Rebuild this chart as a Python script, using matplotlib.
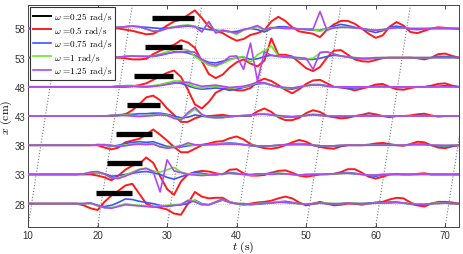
import numpy as np
import matplotlib
matplotlib.use("Agg")
import matplotlib.pyplot as plt

plt.rcParams["mathtext.fontset"] = "cm"
plt.rcParams["font.family"] = ["Liberation Sans", "DejaVu Sans"]

# time axis (s), one sample per second
t = np.array([10, 11, 12, 13, 14, 15, 16, 17, 18, 19,
              20, 21, 22, 23, 24, 25, 26, 27, 28, 29,
              30, 31, 32, 33, 34, 35, 36, 37, 38, 39,
              40, 41, 42, 43, 44, 45, 46, 47, 48, 49,
              50, 51, 52, 53, 54, 55, 56, 57, 58, 59,
              60, 61, 62, 63, 64, 65, 66, 67, 68, 69,
              70, 71, 72])

gauges = [28, 33, 38, 43, 48, 53, 58]

# displacement (cm) about each gauge position
red_28 = [0, 0, 0, 0, 0, 0, 0, 0, -0.3, -0.8,
          -1.1, 0.3, 1.4, 2.2, 3.1, 3.4, 1.7, 0.0, -0.5, -0.7,
          -1.0, -1.7, -1.9, 0.0, 2.0, 1.2, 0.9, 1.0, 1.0, 0.3,
          0.0, -0.2, 0.0, 0.2, 0.3, 0.5, 0.9, 1.2, 0.9, 0.2,
          -0.3, 0.0, 0.3, 0.0, -0.3, -0.2, 0.0, 0.0, -0.2, 0.0,
          0.2, 0.3, 0.7, 1.0, 0.9, 0.2, -0.3, -0.5, 0.0, 0.3,
          0.3, 0.2, 0.0]
blue_28 = [0, 0, 0, 0, 0, 0, 0, 0, 0, 0.1,
           -0.3, -0.5, -0.3, 0.2, 0.8, 0.7, 0.4, 0.2, 0.0, -0.3,
           -0.5, -0.3, -0.2, 0.0, 0.6, 0.0, -0.2, 0.2, 0.6, 0.2,
           0.0, -0.1, -0.2, -0.1, 0.0, 0.1, 0.3, 0.4, 0.2, 0.0,
           -0.2, -0.1, 0.1, 0.0, -0.1, 0.0, 0.1, 0.0, 0.0, 0.1,
           0.1, 0.2, 0.3, 0.3, 0.1, -0.1, -0.3, -0.2, 0.0, 0.1,
           0.1, 0.0, 0.0]
green_28 = [0, 0, 0, 0, 0, 0, 0, 0, 0, 0,
            -0.4, -0.7, -0.7, -0.4, 0.0, -0.2, -0.3, -0.4, -0.5, -0.4,
            -0.3, -0.2, -0.1, 0.6, 0.5, -0.1, -0.2, 0.3, 0.7, 0.3,
            0.0, 0.0, -0.1, 0.0, 0.1, 0.2, 0.3, 0.2, 0.1, 0.0,
            -0.1, 0.0, 0.1, 0.1, 0.0, 0.0, 0.1, 0.1, 0.0, 0.0,
            0.1, 0.1, 0.2, 0.2, 0.1, 0.0, -0.1, -0.1, 0.0, 0.1,
            0.1, 0.0, 0.0]
purple_28 = [0, 0, 0, 0, 0, 0, 0, 0, 0, 0.1,
             -0.3, -0.7, -0.8, -0.5, -0.2, -0.3, -0.4, -0.5, -0.6, -0.5,
             -0.4, -0.3, -0.2, 0.5, 0.3, -0.2, -0.2, 0.3, 0.8, 0.2,
             0.0, 0.0, -0.1, 0.0, 0.1, 0.1, 0.2, 0.2, 0.1, 0.0,
             -0.1, 0.0, 0.1, 0.0, 0.0, 0.0, 0.1, 0.0, 0.0, 0.0,
             0.1, 0.1, 0.1, 0.2, 0.1, 0.0, -0.1, -0.1, 0.0, 0.0,
             0.1, 0.0, 0.0]

red_33 = [0, 0, 0, 0, 0, 0, 0, 0, 0, 0,
          -0.2, -0.5, -1.0, -0.2, 0.8, 1.5, 1.8, 2.9, 2.0, -0.3,
          -2.5, -3.5, -1.2, 0.0, 0.4, 0.6, 0.5, 0.2, 0.0, 0.8,
          0.9, 0.2, -0.2, -0.2, -0.1, 0.3, 0.6, 0.7, 0.3, -0.2,
          -0.4, -0.2, 0.0, 0.0, 0.1, 0.4, 0.9, 0.9, 0.3, -0.4,
          -0.7, -0.4, 0.0, 0.1, 0.0, 0.0, 0.1, 0.2, 0.0, 0.0,
          0.0, 0.0, 0.0]
blue_33 = [0, 0, 0, 0, 0, 0, 0, 0, 0.1, 0.2,
           0.3, 0.1, -0.3, -0.2, 0.0, 0.2, 0.4, 0.5, 0.3, 0.0,
           -0.5, -0.8, -0.4, 0.0, 0.3, 0.2, 0.0, -0.1, 0.1, 0.3,
           0.2, 0.0, -0.1, 0.0, 0.1, 0.2, 0.2, 0.1, 0.0, -0.1,
           -0.1, 0.0, 0.1, 0.1, 0.1, 0.2, 0.3, 0.2, 0.0, -0.2,
           -0.3, -0.1, 0.0, 0.0, 0.0, 0.0, 0.0, 0.1, 0.0, 0.0,
           0.0, 0.0, 0.0]
green_33 = [0, 0, 0, 0, 0, 0, 0, 0, 0.1, 0.3,
            0.4, 0.0, -0.6, -0.6, -0.1, 0.4, 0.9, 1.1, 0.6, 0.4,
            0.8, 1.2, 0.4, 0.1, 0.1, 0.0, -0.1, 0.0, 0.1, 0.2,
            0.1, 0.0, -0.1, 0.0, 0.1, 0.1, 0.2, 0.1, 0.0, -0.1,
            0.0, 0.0, 0.1, 0.1, 0.1, 0.1, 0.2, 0.1, 0.0, -0.1,
            -0.1, 0.0, 0.0, 0.0, 0.0, 0.0, 0.0, 0.0, 0.0, 0.0,
            0.0, 0.0, 0.0]
purple_33 = [0, 0, 0, 0, 0, 0, 0, 0, 0.1, 0.4,
             0.5, 0.1, -0.6, -0.7, -0.3, 0.2, 0.8, 1.0, 0.5, -3.0,
             2.5, 0.6, 0.3, 0.0, -0.1, -0.2, -0.1, 0.0, 0.1, 0.2,
             0.1, 0.0, 0.0, 0.1, 0.1, 0.0, 0.1, 0.1, 0.0, -0.1,
             0.0, 0.0, 0.0, 0.1, 0.1, 0.2, 0.2, 0.1, 0.0, -0.1,
             -0.1, 0.0, 0.0, 0.0, 0.0, 0.0, 0.0, 0.0, 0.0, 0.0,
             0.0, 0.0, 0.0]

red_38 = [0, 0, 0, 0, 0, 0, 0, 0, 0, 0,
          0.0, -0.4, -0.7, -0.4, 0.5, 0.8, 1.1, 1.8, 2.7, 1.8,
          0.8, -0.3, -1.2, -1.2, -0.6, 0.0, 0.3, 0.6, 0.7, 1.2,
          1.5, 1.0, 0.2, -0.2, -0.5, -0.6, -0.4, 0.0, 0.5, 0.9,
          0.6, 0.0, -0.3, -0.5, -0.6, -0.2, 0.0, 0.0, 0.0, 0.1,
          0.3, 0.4, 0.2, 0.0, -0.1, 0.2, 0.6, 0.5, 0.0, -0.4,
          -0.5, -0.2, 0.0]
blue_38 = [0, 0, 0, 0, 0, 0, 0, 0, 0, 0,
           0.1, 0.0, -0.2, 0.0, 0.3, 0.5, 0.6, 0.5, 0.6, 0.2,
           -0.2, -0.3, -0.3, -0.1, 0.0, 0.1, 0.2, 0.2, 0.3, 0.4,
           0.3, 0.1, -0.1, -0.2, -0.2, -0.1, 0.0, 0.1, 0.2, 0.3,
           0.2, 0.0, -0.1, -0.2, -0.2, -0.1, 0.0, 0.0, 0.0, 0.0,
           0.1, 0.1, 0.0, 0.0, 0.0, 0.1, 0.2, 0.2, 0.0, -0.1,
           -0.2, -0.1, 0.0]
green_38 = [0, 0, 0, 0, 0, 0, 0, 0, 0, 0,
            0.1, 0.1, -0.1, -0.1, 0.0, 0.2, 0.3, 0.2, 0.3, -0.2,
            -0.4, -0.3, -0.1, 0.1, 0.0, 0.0, 0.1, 0.2, 0.2, 0.3,
            0.2, 0.1, 0.0, -0.1, -0.1, -0.1, 0.0, 0.1, 0.1, 0.2,
            0.1, 0.0, -0.1, -0.1, -0.1, 0.0, 0.0, 0.0, 0.0, 0.0,
            0.0, 0.0, 0.0, 0.0, 0.0, 0.1, 0.1, 0.1, 0.0, 0.0,
            -0.1, 0.0, 0.0]
purple_38 = [0, 0, 0, 0, 0, 0, 0, 0, 0, 0,
             0.1, 0.1, 0.0, -0.2, -0.1, 0.1, 0.2, 0.1, 0.2, -0.3,
             -0.5, -0.4, -0.1, 0.4, 0.1, 0.0, 0.1, 0.1, 0.2, 0.2,
             0.2, 0.1, 0.0, -0.1, -0.1, -0.1, 0.0, 0.1, 0.1, 0.1,
             0.1, 0.0, -0.1, -0.1, -0.1, 0.0, 0.0, 0.0, 0.0, 0.0,
             0.0, 0.0, 0.0, 0.0, 0.0, 0.1, 0.1, 0.1, 0.0, 0.0,
             0.0, 0.0, 0.0]

red_43 = [0, 0, 0, 0, 0, 0, 0, 0, 0, 0,
          0.0, 0.0, 0.0, 0.1, 0.3, 1.0, 2.0, 3.2, 3.5, 2.7,
          1.3, 0.2, -1.0, -1.0, -0.4, 0.0, 0.0, 0.1, 0.2, 0.0,
          0.0, 0.0, 0.0, 0.8, 1.3, 0.7, -0.2, -0.7, -0.7, -0.3,
          0.5, 1.0, 0.7, 0.0, -0.2, -0.4, -0.3, 0.0, 0.2, 0.5,
          0.3, 0.0, -0.2, 0.0, 0.0, 0.1, 0.3, 0.4, 0.1, -0.1,
          0.0, 0.0, 0.0]
blue_43 = [0, 0, 0, 0, 0, 0, 0, 0, 0, 0,
           0.0, 0.0, 0.1, 0.2, 0.3, 0.3, 0.4, 0.4, 0.5, 0.5,
           0.3, 0.0, -0.3, -0.2, 0.2, 0.0, -0.2, -0.2, -0.1, -0.1,
           0.0, 0.0, 0.1, 0.3, 0.4, 0.2, 0.0, -0.2, -0.2, -0.1,
           0.1, 0.3, 0.2, 0.0, -0.1, -0.1, -0.1, 0.0, 0.1, 0.1,
           0.1, 0.0, 0.0, 0.0, 0.0, 0.0, 0.1, 0.1, 0.0, 0.0,
           0.0, 0.0, 0.0]
green_43 = [0, 0, 0, 0, 0, 0, 0, 0, 0, 0,
            0.0, 0.0, 0.1, 0.1, 0.2, 0.1, 0.0, 0.1, 0.2, 0.3,
            0.2, -0.3, -0.5, 0.3, 1.2, 0.2, -0.2, -0.3, -0.2, -0.1,
            0.0, 0.1, 0.1, 0.3, 0.4, 0.2, 0.0, -0.1, -0.1, 0.0,
            0.1, 0.2, 0.1, 0.0, 0.0, 0.0, 0.0, 0.0, 0.0, 0.0,
            0.0, 0.0, 0.0, 0.0, 0.0, 0.0, 0.0, 0.0, 0.0, 0.0,
            0.0, 0.0, 0.0]
purple_43 = [0, 0, 0, 0, 0, 0, 0, 0, 0, 0,
             0.0, 0.0, 0.1, 0.1, 0.1, 0.0, -0.1, 0.0, 0.1, 0.2,
             0.1, -0.4, -0.7, 0.6, 1.5, 0.3, -0.2, -0.3, -0.3, -0.1,
             0.0, 0.1, 0.2, 0.3, 0.3, 0.2, 0.1, 0.0, -0.1, 0.0,
             0.1, 0.2, 0.1, 0.0, 0.0, 0.0, 0.0, 0.0, 0.0, 0.0,
             0.0, 0.0, 0.0, 0.0, 0.0, 0.0, 0.0, 0.0, 0.0, 0.0,
             0.0, 0.0, 0.0]

red_48 = [0, 0, 0, 0, 0, 0, 0, 0, 0, 0,
          0.0, 0.0, 0.0, 0.0, 0.0, 0.1, 0.3, 0.6, 1.2, 1.8,
          2.4, 2.8, 1.7, -0.5, -3.0, -3.7, -2.6, -1.0, -0.4, -0.3,
          -0.6, -0.6, -0.2, 0.9, 1.4, 1.0, 0.3, -0.5, -1.1, -0.4,
          0.5, 1.1, 1.2, 0.6, 0.0, -0.1, -0.3, -0.6, -0.3, 0.0,
          0.4, 0.5, 0.0, -0.4, -0.5, -0.2, 0.0, 0.0, 0.2, 0.5,
          0.6, 0.2, 0.0]
blue_48 = [0, 0, 0, 0, 0, 0, 0, 0, 0, 0,
           0.0, 0.0, 0.0, 0.1, 0.2, 0.2, 0.1, 0.0, 0.1, 0.3,
           0.5, 0.7, 0.6, 0.2, -0.2, -0.4, -0.3, -0.2, -0.3, -0.6,
           -0.4, -0.1, 0.2, 0.5, 0.6, 0.3, 0.0, -0.3, -0.4, -0.1,
           0.2, 0.4, 0.4, 0.2, 0.0, -0.1, -0.2, -0.2, -0.1, 0.0,
           0.1, 0.1, 0.0, -0.1, -0.1, 0.0, 0.0, 0.0, 0.0, 0.1,
           0.2, 0.1, 0.0]
green_48 = [0, 0, 0, 0, 0, 0, 0, 0, 0, 0,
            0.0, 0.0, 0.0, 0.1, 0.2, 0.2, 0.1, 0.1, 0.2, 0.4,
            0.7, 1.0, 1.0, 0.5, 0.0, -0.2, 0.0, 0.1, 0.0, -0.2,
            -0.1, 0.0, 0.3, 0.7, 0.7, 0.3, 0.0, -0.2, -0.2, 0.0,
            0.2, 0.3, 0.3, 0.1, 0.0, 0.0, 0.0, 0.0, 0.0, 0.0,
            0.0, 0.0, 0.0, 0.0, 0.0, 0.0, 0.0, 0.0, 0.0, 0.0,
            0.0, 0.0, 0.0]
purple_48 = [0, 0, 0, 0, 0, 0, 0, 0, 0, 0,
             0.0, 0.0, 0.0, 0.1, 0.1, 0.1, 0.0, 0.0, 0.1, 0.2,
             0.4, 0.6, 0.8, 0.8, 0.4, 0.1, 0.2, 0.3, 0.1, -0.1,
             0.0, 0.1, 0.4, 0.8, 0.7, 0.3, 0.0, -0.1, -0.2, 0.0,
             0.2, 0.3, 0.3, 0.1, 0.0, 0.0, 0.0, 0.0, 0.0, 0.0,
             0.0, 0.0, 0.0, 0.0, 0.0, 0.0, 0.0, 0.0, 0.0, 0.0,
             0.0, 0.0, 0.0]

red_53 = [0, 0, 0, 0, 0, 0, 0, 0, 0, 0,
          0.0, 0.0, 0.0, 0.0, -0.1, -0.3, -0.3, -0.2, 0.6, 1.2,
          1.7, 2.2, 3.0, 2.6, 1.7, -0.6, -2.8, -3.5, -2.9, -1.7,
          -0.8, -0.3, -1.0, -1.5, -0.5, 3.3, 0.5, 0.5, 0.2, -0.8,
          -1.8, -2.3, -1.6, 0.0, 1.2, 1.3, 0.5, -0.3, -0.6, -0.7,
          -0.4, -0.1, 0.0, 0.0, 0.0, 0.0, -0.1, -0.3, 0.0, 0.6,
          0.7, 0.3, 0.0]
blue_53 = [0, 0, 0, 0, 0, 0, 0, 0, 0, 0,
           0.0, 0.0, 0.0, 0.1, 0.2, 0.3, 0.3, 0.2, 0.2, 0.4,
           0.7, 1.0, 1.0, 0.8, 0.4, -0.3, -0.8, -0.9, -0.6, -0.3,
           0.0, 0.1, -0.3, -0.2, 0.2, 0.4, 0.2, 0.1, 0.0, -0.2,
           -0.3, -0.3, -0.1, 0.2, 0.4, 0.3, 0.1, -0.1, -0.2, -0.2,
           -0.1, 0.0, 0.0, 0.0, 0.0, 0.0, 0.0, 0.0, 0.0, 0.2,
           0.2, 0.1, 0.0]
green_53 = [0, 0, 0, 0, 0, 0, 0, 0, 0, 0,
            0.0, 0.0, 0.0, 0.1, 0.2, 0.3, 0.3, 0.2, 0.3, 0.6,
            1.0, 1.4, 1.5, 1.3, 0.2, -0.6, -1.3, -1.5, -1.0, -0.4,
            0.0, 0.2, -0.8, 0.5, 1.2, 2.0, 0.3, 0.2, 0.1, -0.1,
            -0.2, -0.1, 0.8, 1.0, 0.6, 0.3, 0.1, 0.0, -0.1, -0.1,
            0.0, 0.0, 0.0, 0.0, 0.0, 0.0, 0.0, 0.0, 0.0, 0.0,
            0.0, 0.0, 0.0]
purple_53 = [0, 0, 0, 0, 0, 0, 0, 0, 0, 0,
             0.0, 0.0, 0.0, 0.1, 0.2, 0.3, 0.2, 0.2, 0.3, 0.5,
             0.7, 0.9, 1.0, 1.1, 0.9, -0.3, -1.0, -1.3, -0.8, 0.2,
             0.3, -2.0, 2.5, -4.0, 1.0, 0.4, 0.3, 0.2, 0.1, 0.0,
             -0.1, -2.0, 0.9, 1.0, 0.6, 0.3, 0.1, 0.0, -0.1, -0.1,
             0.0, 0.0, 0.0, 0.0, 0.0, 0.0, 0.0, 0.0, 0.0, 0.0,
             0.0, 0.0, 0.0]

red_58 = [0, 0, 0, 0, 0, 0, 0, 0, 0, 0,
          0.0, 0.0, 0.0, 0.0, -0.2, -0.4, -0.7, -1.0, -0.9, -0.3,
          0.5, 1.2, 1.5, 2.3, 3.1, 1.8, 0.3, -0.4, -0.8, -1.5,
          -2.1, -1.8, -1.1, -0.8, -0.3, 1.2, 2.0, 1.3, 0.2, -0.5,
          -0.7, -0.9, -1.5, -0.2, 0.7, 1.3, 1.3, 0.8, 0.0, -0.9,
          -1.6, -1.2, 0.3, 1.1, 0.5, -0.6, -0.8, -0.4, 0.0, 0.2,
          0.1, 0.0, -0.1]
blue_58 = [0, 0, 0, 0, 0, 0, 0, 0, 0, 0,
           0.0, 0.0, 0.1, 0.2, 0.3, 0.4, 0.3, 0.2, 0.1, 0.0,
           0.1, 0.2, 0.3, 0.4, 0.3, 0.0, -0.2, -0.3, -0.4, -0.6,
           -0.5, -0.2, 0.0, -0.2, -0.6, 0.0, 0.3, 0.3, 0.1, -0.1,
           -0.2, -0.3, -0.3, 0.0, 0.4, 0.7, 0.5, 0.2, 0.0, -0.4,
           -0.7, -0.4, 0.2, 0.4, 0.2, -0.1, -0.2, -0.1, 0.0, 0.0,
           0.0, 0.0, 0.0]
green_58 = [0, 0, 0, 0, 0, 0, 0, 0, 0, 0,
            0.0, 0.0, 0.1, 0.2, 0.3, 0.4, 0.3, -0.1, -0.4, -0.4,
            0.0, 0.3, 0.5, 0.6, 0.4, -0.5, 1.0, -0.6, -0.3, -0.6,
            -1.0, -0.3, 0.0, 0.3, -0.3, 0.2, 0.1, 0.0, 0.0, -0.1,
            -0.1, -0.2, -0.5, 0.0, 0.1, 0.2, 0.2, 0.1, 0.0, -0.2,
            -0.3, -0.2, 0.0, 0.1, 0.1, 0.0, 0.0, 0.0, 0.0, 0.0,
            0.0, 0.0, 0.0]
purple_58 = [0, 0, 0, 0, 0, 0, 0, 0, 0, 0,
             0.0, 0.0, 0.1, 0.2, 0.3, 0.4, 0.3, -0.1, -0.5, -0.4,
             0.0, 0.2, 0.4, 0.5, 0.3, -0.6, 1.2, -0.8, -0.3, -0.5,
             -0.8, -0.2, 0.1, 0.5, -0.2, 0.1, 0.1, 0.0, 0.0, -0.1,
             -0.1, -0.1, 2.9, -0.3, 0.1, 0.2, 0.2, 0.1, 0.0, -0.2,
             -0.3, -0.2, 0.0, 0.1, 0.1, 0.0, 0.0, 0.0, 0.0, 0.0,
             0.0, 0.0, 0.0]

# black bars (forcing window) per gauge
bar_start = [19.8, 21.3, 22.7, 24.2, 25.3, 26.8, 27.9]
bar_end = [25.0, 26.4, 27.8, 29.0, 30.8, 32.2, 33.9]
bar_level = [29.9, 34.9, 39.9, 44.9, 49.9, 54.8, 59.8]

# dotted characteristic lines: (t at x=24) -> (t at x=62)
char_t_bottom = [10, 20, 30, 40, 50, 60, 70]
char_t_top = [15, 25, 35, 45, 55, 65, 75]

labels = [r"$\omega$ =0.25 rad/s", r"$\omega$ =0.5 rad/s",
          r"$\omega$ =0.75 rad/s", r"$\omega$ =1 rad/s",
          r"$\omega$ =1.25 rad/s"]
colors = ["black", "#ff1a1a", "#3a55ff", "#6ae62a", "#b048f0"]

red = [red_28, red_33, red_38, red_43, red_48, red_53, red_58]
blue = [blue_28, blue_33, blue_38, blue_43, blue_48, blue_53, blue_58]
green = [green_28, green_33, green_38, green_43, green_48, green_53, green_58]
purple = [purple_28, purple_33, purple_38, purple_43, purple_48, purple_53, purple_58]

fig = plt.figure(figsize=(4.63, 2.55), dpi=100)
ax = fig.add_axes([0.0605, 0.106, 0.931, 0.870])

for a, b in zip(char_t_bottom, char_t_top):
    ax.plot([a, b], [24, 62], ls=":", color="#777777", lw=0.8, zorder=1)
for g in gauges:
    ax.axhline(g, ls=":", color="#bbbbbb", lw=0.6, zorder=1)

# 0.25 rad/s trace is hidden under the others in the source; legend entry only
ax.plot([], [], color=colors[0], lw=1.4, label=labels[0])
for k, g in enumerate(gauges):
    series = [red[k], blue[k], green[k], purple[k]]
    for j, s in enumerate(series):
        lw = 1.4 if j == 0 else 1.2
        ax.plot(t, g + np.array(s), color=colors[j + 1], lw=lw, zorder=2 + j,
                label=labels[j + 1] if k == 0 else None)

ax.hlines(bar_level, bar_start, bar_end, color="black", lw=3.8, zorder=7)

ax.set_xlim(10, 72)
ax.set_ylim(24, 62)
ax.set_xticks([10, 20, 30, 40, 50, 60, 70])
ax.set_yticks(gauges)
ax.tick_params(direction="in", top=True, right=True, labelsize=7, length=3,
               width=0.6, colors="#333333", pad=2)
for sp in ax.spines.values():
    sp.set_linewidth(0.7)
    sp.set_color("#444444")

ax.set_xlabel(r"$t\ (\mathrm{s})$", fontsize=8.5)
ax.set_ylabel(r"$x\ (\mathrm{cm})$", fontsize=8.5)
ax.xaxis.set_label_coords(0.5, -0.055)
ax.yaxis.set_label_coords(-0.033, 0.5)

leg = ax.legend(loc="upper left", prop={"family": "cmr10", "size": 6.6},
                handlelength=2.0, handletextpad=0.3,
                borderaxespad=0.25, borderpad=0.3, labelspacing=0.05, fancybox=False,
                framealpha=1)
leg.get_frame().set_edgecolor("#333333")
leg.get_frame().set_linewidth(0.8)
leg.set_zorder(10)

fig.savefig("out.png", dpi=100)
